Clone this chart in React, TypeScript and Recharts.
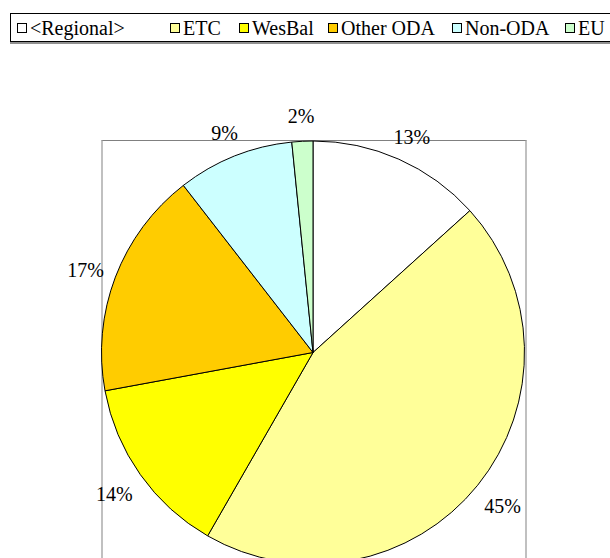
import { PieChart, Pie, Cell, Legend } from "recharts";

const categories = ["<Regional>", "ETC", "WesBal", "Other ODA", "Non-ODA", "EU"];
const shares = [13.3, 45.0, 13.8, 17.4, 8.9, 1.6];
const colors = ["#ffffff", "#ffff99", "#ffff00", "#ffcc00", "#ccffff", "#ccffcc"];

// legend entry widths, like the spacing in the original
const legendWidths = [153, 69, 89, 124, 113, 60];

const data = categories.map((name, i) => ({ name, value: shares[i] }));

const FONT = "'Liberation Serif', Tinos, 'Times New Roman', Times, serif";
const RAD = Math.PI / 180;

// label box sits just outside the rim, pushed out by half its size (like Excel)
function renderLabel(props: any) {
  const { cx, cy, midAngle, outerRadius, percent } = props;
  const text = `${Math.round(percent * 100)}%`;
  const w = (text.length - 1) * 10 + 12;
  const h = 24;
  const dx = Math.cos(-midAngle * RAD);
  const dy = Math.sin(-midAngle * RAD);
  const r = outerRadius + 16;
  const x = cx + r * dx + (w / 2) * dx;
  const y = cy + r * dy + (h / 2) * dy + 3;
  return (
    <text
      x={x}
      y={y}
      textAnchor="middle"
      dominantBaseline="central"
      fill="#000"
      style={{ fontFamily: FONT, fontSize: 20 }}
    >
      {text}
    </text>
  );
}

function renderLegend() {
  return (
    <div
      style={{
        position: "absolute",
        left: 0,
        top: 0,
        width: 620,
        height: 29,
        border: "1px solid #000",
        boxShadow: "0 2px 0 #909090",
        background: "#fff",
        display: "flex",
        alignItems: "center",
        fontFamily: FONT,
        fontSize: 20,
        color: "#000",
        boxSizing: "border-box",
      }}
    >
      {categories.map((name, i) => (
        <div
          key={name}
          style={{
            width: legendWidths[i],
            display: "flex",
            alignItems: "center",
            flex: "none",
            marginLeft: i === 0 ? 6 : 0,
          }}
        >
          <span
            style={{
              width: 10,
              height: 10,
              border: "1px solid #000",
              background: colors[i],
              boxSizing: "border-box",
              marginRight: 3,
              flex: "none",
            }}
          />
          <span style={{ whiteSpace: "nowrap", lineHeight: "20px" }}>{name}</span>
        </div>
      ))}
    </div>
  );
}

export default function App() {
  return (
    <div
      style={{
        position: "relative",
        width: 610,
        height: 558,
        overflow: "hidden",
        background: "#fff",
        fontFamily: FONT,
      }}
    >
      <style>{`body{margin:0}`}</style>
      <div
        style={{
          position: "absolute",
          left: 101,
          top: 140,
          width: 426,
          height: 500,
          borderTop: "1px solid #808080",
          borderLeft: "2px solid #c0c0c0",
          borderRight: "2px solid #c0c0c0",
          boxSizing: "border-box",
        }}
      />
      <div style={{ position: "absolute", left: 0, top: 0 }}>
        <PieChart width={610} height={558} margin={{ top: 0, right: 0, bottom: 0, left: 0 }}>
          <Pie
            data={data}
            dataKey="value"
            nameKey="name"
            cx={313}
            cy={352.5}
            outerRadius={211.5}
            startAngle={90}
            endAngle={-270}
            stroke="#000"
            strokeWidth={1}
            label={renderLabel}
            labelLine={false}
            isAnimationActive={false}
          >
            {data.map((d, i) => (
              <Cell key={d.name} fill={colors[i]} />
            ))}
          </Pie>
          <Legend
            content={renderLegend}
            wrapperStyle={{ position: "absolute", left: 10, top: 13, width: 620, height: 31 }}
          />
        </PieChart>
      </div>
    </div>
  );
}
